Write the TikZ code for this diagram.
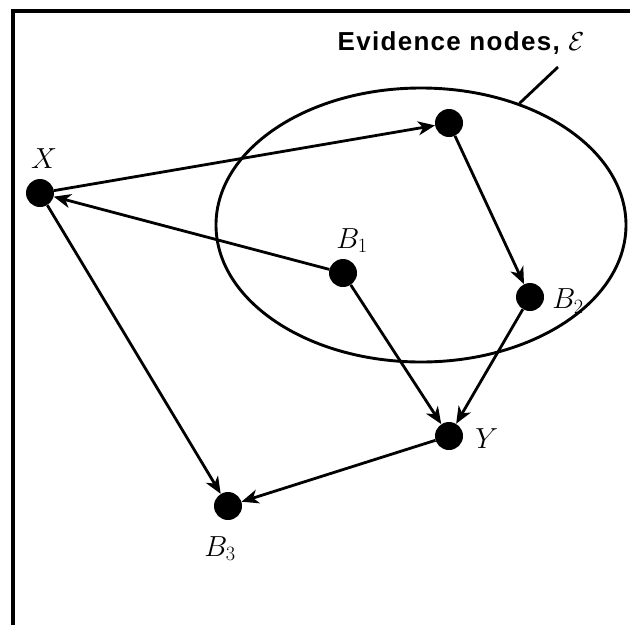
\RequirePackage{fix-cm}
\documentclass[tikz,border=0pt]{standalone}
\usepackage{fontspec}
\usepackage{amsmath}
\usepackage{tikz}
\usetikzlibrary{
  arrows.meta,
  shapes.geometric,
  positioning
}
\newfontfamily\evidfont[LetterSpace=5]{Liberation Sans}
\tikzset{
  dot/.style={circle, fill=black, minimum size=28pt, inner sep=0pt},
  lbl/.style={font=\fontsize{29}{34}\selectfont, inner sep=0pt},
  link/.style={-{Stealth[length=17pt, width=14pt, inset=5pt]}, line width=2.8pt},
  setline/.style={draw, ellipse, line width=2.9pt, inner sep=0pt},
  frameline/.style={line width=4pt},
  tagtext/.style={font=\evidfont\bfseries\fontsize{26}{30}\selectfont, inner sep=0pt}
}
\begin{document}
\begin{tikzpicture}[x=1pt, y=-1pt]
  \useasboundingbox (0,0) rectangle (630,625);
  \draw[frameline] (13,625) -- (13,11) -- (630,11);

  % evidence set
  \node[setline, minimum width=410pt, minimum height=274pt] (evid) at (421,225) {};
  \node[tagtext] (tag) at (461,43) {Evidence nodes, {\mdseries$\mathcal{E}$}};
  \coordinate (ptr) at (558,67);
  \draw[line width=2.8pt] (evid.51) -- (ptr);

  % nodes
  \node[dot] (x) at (40,193) {};
  \node[dot] (e) at (449,123) {};
  \node[dot] (b1) at (343,273) {};
  \node[dot] (b2) at (530,297) {};
  \node[dot] (y) at (449,436) {};
  \node[dot] (b3) at (228,506) {};

  % labels
  \node[lbl, above=10pt of x, xshift=4pt] (xl) {$X$};
  \node[lbl, above=6pt of b1, xshift=9pt] (b1l) {$B_1$};
  \node[lbl, right=8pt of b2, yshift=-4pt] (b2l) {$B_2$};
  \node[lbl, right=12pt of y, yshift=-3pt] (yl) {$Y$};
  \node[lbl, below=16pt of b3, xshift=-8pt] (b3l) {$B_3$};

  % arcs
  \draw[link] (x) -- (e);
  \draw[link] (b1) -- (x);
  \draw[link] (e) -- (b2);
  \draw[link] (b1) -- (y);
  \draw[link] (b2) -- (y);
  \draw[link] (x) -- (b3);
  \draw[link] (y) -- (b3);
\end{tikzpicture}
\end{document}
